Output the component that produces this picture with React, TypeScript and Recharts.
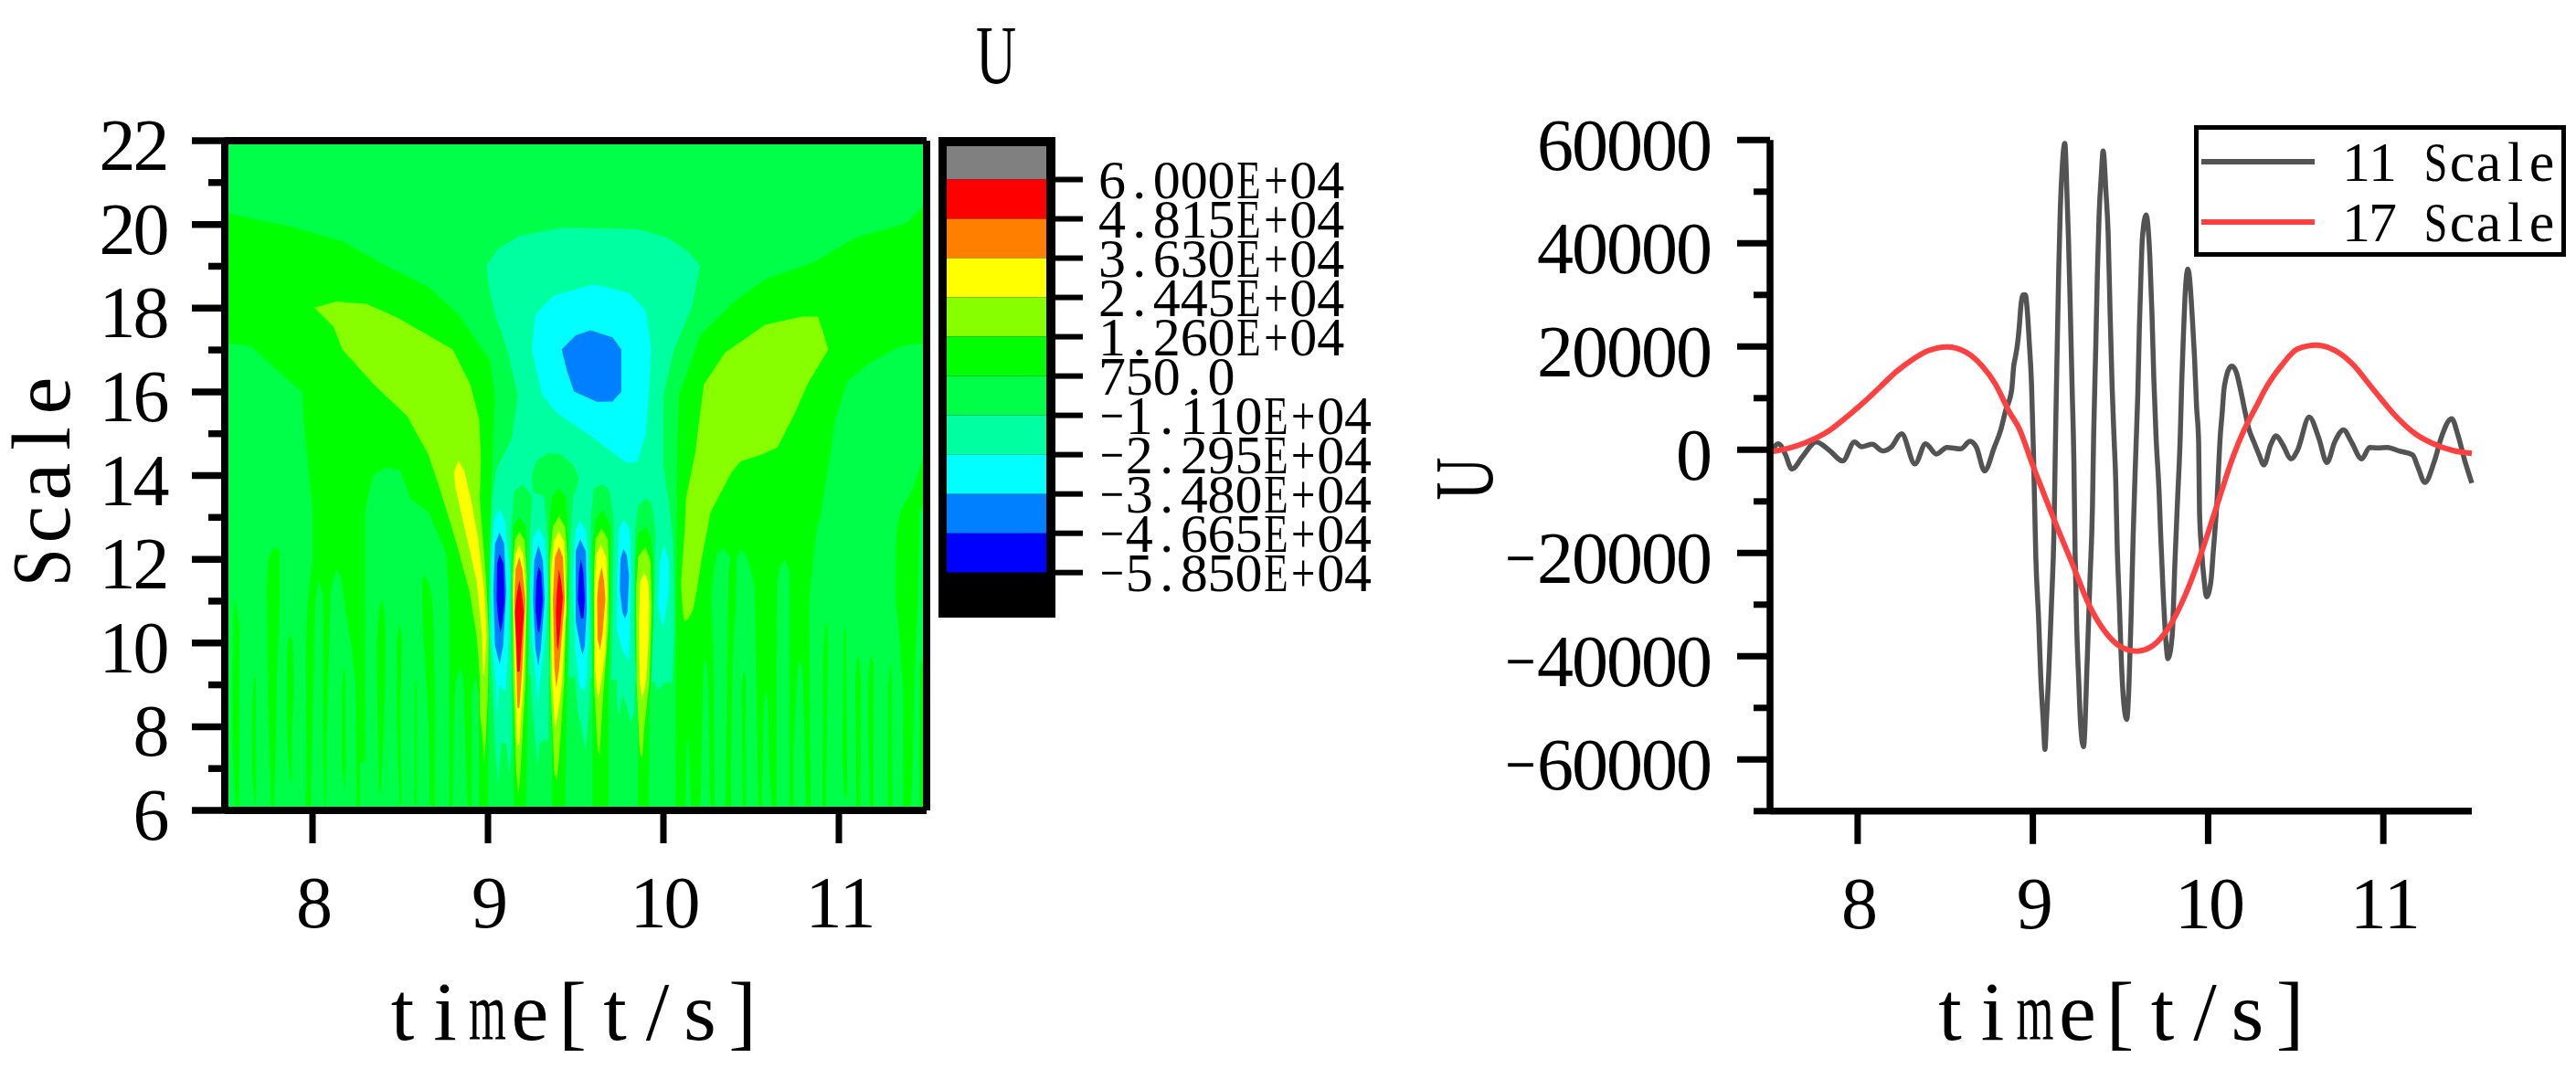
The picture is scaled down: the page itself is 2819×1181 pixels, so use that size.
import { Legend, Line, LineChart, ReferenceLine, ResponsiveContainer, Scatter, ScatterChart, XAxis, YAxis } from 'recharts';

const SERIF = '"Liberation Serif", "DejaVu Serif", serif';

// contour level colours, top of the colour bar first
const GRAY = '#808080';
const RED = '#ff0000';
const ORANGE = '#ff8000';
const YELLOW = '#ffff00';
const LIME = '#88ff00';
const GREEN = '#00ff00';
const SPRING = '#00ff48';
const MINT = '#00ffa0';
const CYAN = '#00ffff';
const BLUE = '#0080ff';
const DEEP = '#0000ff';
const BLACK = '#000000';

const barColors = [GRAY, RED, ORANGE, YELLOW, LIME, GREEN, SPRING, MINT, CYAN, BLUE, DEEP, BLACK];
const barEdges = [70050, 60000, 48150, 36300, 24450, 12600, 750, -11100, -22950, -34800, -46650, -58500, -72080];
const barTicks = [60000, 48150, 36300, 24450, 12600, 750, -11100, -22950, -34800, -46650, -58500];
const barTickLabels = ['6.000E+04', '4.815E+04', '3.630E+04', '2.445E+04', '1.260E+04', '750.0', '−1.110E+04', '−2.295E+04', '−3.480E+04', '−4.665E+04', '−5.850E+04'];

const contourTimeTicks = [8, 9, 10, 11];
const scaleTicks = [6, 7, 8, 9, 10, 11, 12, 13, 14, 15, 16, 17, 18, 19, 20, 21, 22];
const uTicks = [-70000, -60000, -50000, -40000, -30000, -20000, -10000, 0, 10000, 20000, 30000, 40000, 50000, 60000];

// contour outlines as time, scale pairs
const plotField = [7.5,22, 11.5,22, 11.5,6, 7.5,6];
const wideGreen = [7.5,20.28, 7.89,19.93, 8.17,19.6, 8.42,19.01, 8.66,18.51, 8.83,17.86, 9.01,16.76, 9.04,15.93, 10.09,15.93, 10.21,17.35, 10.41,18.18, 10.58,18.69, 10.86,19.1, 11.1,19.69, 11.38,20.02, 11.5,20.5, 11.5,6, 7.5,6];

const outerSpring = [
  [7.5,17.18, 7.65,17.09, 7.755,16.68, 7.94,16, 7.95,15.32, 7.97,14.45, 8,13.14, 8,12.05, 7.99,11.68, 7.972,10.96, 7.964,10.23, 7.964,6.59, 7.96,6, 7.5,6],
  [7.99,6, 7.993,6.59, 8.016,10.96, 8.033,11.48, 8.06,11.17, 8.06,7.32, 8.068,6.3, 8.07,6],
  [8.077,6, 8.08,7.46, 8.103,11.25, 8.137,11.79, 8.163,11.54, 8.19,10.74, 8.215,10.08, 8.233,9.5, 8.247,9, 8.25,6],
  [8.27,6, 8.27,7.1, 8.3,7.2, 8.3,13.14, 8.32,13.58, 8.347,14.01, 8.417,14.19, 8.5,14.12, 8.56,13.43, 8.66,13.14, 8.719,12.56, 8.762,12.12, 8.78,10.74, 8.78,6.15, 8.77,6],
  [8.797,6, 8.806,8.19, 8.82,9.14, 8.84,9.39, 8.858,9.21, 8.875,7.1, 8.884,6.15, 8.884,6],
  [8.907,6, 8.91,8.77, 8.927,9.21, 8.948,8.77, 8.948,6],
  [10.134,7.68, 10.129,6.95, 10.125,6, 10.157,6, 10.151,6.95, 10.143,7.68],
  [10.233,9.57, 10.226,9.06, 10.216,6.95, 10.209,6, 10.273,6, 10.264,6.59, 10.261,8.05, 10.255,9.06, 10.247,9.57],
  [10.339,12.27, 10.302,12.12, 10.281,11.54, 10.273,10.96, 10.285,9.65, 10.292,6, 10.354,6, 10.36,8.05, 10.365,9.87, 10.372,11.68, 10.382,12.05],
  [10.441,12.23, 10.417,11.98, 10.412,10.67, 10.403,10.3, 10.394,9.36, 10.386,7.32, 10.386,6, 10.542,6, 10.538,6.95, 10.528,9.5, 10.521,11.32, 10.49,11.87, 10.469,12.12],
  [10.58,8.88, 10.573,8.41, 10.563,6.66, 10.563,6, 10.62,6, 10.603,6.95, 10.597,8.59],
  [10.69,12.01, 10.663,11.79, 10.65,11.43, 10.646,9.32, 10.646,6, 10.719,6, 10.719,9.28, 10.719,11.72],
  [10.771,9.57, 10.759,8.99, 10.742,7.46, 10.742,6, 10.814,6, 10.802,7.97, 10.794,9.28, 10.785,9.5],
  [11.5,17.18, 11.35,17.09, 11.17,16.68, 11.05,16.26, 10.98,15.34, 10.9,13.14, 10.87,12.63, 10.85,11.83, 10.83,10.96, 10.84,6, 11.5,6],
];

const greenStreaks = [
  [7.552,11.09, 7.542,8.05, 7.552,6.95, 7.564,6, 7.582,6, 7.582,10.37, 7.57,10.81],
  [7.665,9.17, 7.656,8.34, 7.656,6.95, 7.669,6.19, 7.677,6.19, 7.677,9.17],
  [7.781,12.3, 7.75,12.05, 7.738,11.32, 7.747,8.63, 7.764,6, 7.781,6, 7.787,7.03, 7.799,9.36, 7.813,10.81, 7.813,12.19],
  [7.868,10.19, 7.854,9.79, 7.854,7.97, 7.872,6.66, 7.882,6.74, 7.882,7.97, 7.894,8.77, 7.886,10.08],
  [8.181,9.46, 8.167,8.99, 8.167,7.03, 8.181,6.52, 8.19,7.03, 8.186,9.36],
  [8.398,11.07, 8.38,10.81, 8.365,10.01, 8.372,8.05, 8.38,6.44, 8.389,6.34, 8.406,7.9, 8.415,9.28, 8.415,10.59],
  [8.493,10.41, 8.481,10.01, 8.481,8.05, 8.497,6.15, 8.507,6.15, 8.502,8.63, 8.511,10.08, 8.505,10.34],
  [8.585,9.1, 8.58,6.15, 8.594,6.15, 8.594,9.1],
  [8.641,11.61, 8.624,11.54, 8.629,10.37, 8.65,8.99, 8.663,7.97, 8.67,6, 8.698,6, 8.698,8.63, 8.688,10.74, 8.667,11.39],
  [10.455,9.32, 10.446,9.06, 10.452,6, 10.469,6, 10.469,9.21],
  [10.924,10.5, 10.91,9.76, 10.906,6, 10.927,6, 10.938,9.94, 10.933,10.45],
  [11.028,10.3, 11.019,7.32, 11.032,6.34, 11.049,6.34, 11.042,9.65, 11.042,10.3],
  [11.106,9.65, 11.094,9.14, 11.101,6, 11.124,6, 11.124,9.14, 11.115,9.65],
  [11.181,9.72, 11.167,9.14, 11.167,7.97, 11.176,6, 11.198,6, 11.198,9.5],
  [11.297,9.5, 11.28,8.99, 11.28,6, 11.306,6, 11.302,9.5],
  [11.5,14.67, 11.42,13.67, 11.35,13.14, 11.33,12.7, 11.325,12, 11.325,10.96, 11.34,10.45, 11.355,9.5, 11.367,8.8, 11.367,6, 11.41,6, 11.42,7, 11.43,9.2, 11.44,10, 11.45,11, 11.46,13.14, 11.5,13.4],
  [11.46,9.54, 11.5,9.54, 11.5,6, 11.46,6],
];

const limeWings = [
  [8.01,18.01, 8.14,18.16, 8.31,18.1, 8.49,17.76, 8.66,17.35, 8.8,17.01, 8.9,16.17, 8.95,15.34, 8.96,14.34, 8.953,13.43, 8.988,11.61, 9.005,10.16, 9,8.85, 8.988,7.75, 8.979,7.13, 8.97,7.72, 8.953,8.34, 8.953,9.21, 8.936,10.16, 8.893,11.25, 8.823,12.34, 8.771,13.07, 8.719,13.76, 8.66,14.5, 8.54,15.42, 8.35,16.17, 8.17,17.01, 8.12,17.55],
  [10.79,17.8, 10.88,17.8, 10.91,17.43, 10.94,17.01, 10.88,16.59, 10.82,16.17, 10.75,15.5, 10.65,14.67, 10.56,14.5, 10.44,14.34, 10.39,14.09, 10.27,13.14, 10.22,12.05, 10.19,11.25, 10.17,10.81, 10.14,10.56, 10.12,10.52, 10.11,10.74, 10.1,11.43, 10.12,12.63, 10.13,13.5, 10.18,14.5, 10.23,16.17, 10.35,16.93, 10.58,17.6],
];
const yellowRidge = [8.832,14.36, 8.806,14.09, 8.814,13.72, 8.849,13.07, 8.893,12.27, 8.936,11.47, 8.967,10.16, 8.971,9.25, 8.979,9.25, 8.992,10.16, 8.979,11.25, 8.945,12.48, 8.91,13.28, 8.867,14.09];

const centreSpring = [9.04,16.2, 9.04,15.93, 9.03,14.89, 9.02,13.8, 9.005,10.3, 9,6, 10.07,6, 10.07,10.3, 10.08,14.89, 10.09,15.93, 10.09,16.2];
const centreMint = [8.99,19.01, 9.06,19.43, 9.18,19.73, 9.43,19.92, 9.85,19.89, 10.02,19.69, 10.14,19.35, 10.21,19.01, 10.16,18.01, 10.06,17, 10,15.93, 10,14.89, 10,14.2, 10.03,13.4, 10.056,12.34, 10.064,10.3, 10.05,9.06, 10.01,9.06, 9.97,8.88, 9.948,9.06, 9.02,9.3, 9.005,10.5, 9.014,12.7, 9.023,13.43, 9.049,14.16, 9.092,14.52, 9.136,14.89, 9.17,15.93, 9.11,17, 9.04,17.86, 9.01,18.42];
const centreCyan = [9.6,18.56, 9.375,18.3, 9.27,17.85, 9.25,17.01, 9.31,15.92, 9.39,15.5, 9.57,15, 9.79,14.3, 9.85,14.34, 9.9,15, 9.92,16.17, 9.93,17.01, 9.9,17.93, 9.81,18.35, 9.67,18.51];
const centreBlue = [9.585,17.47, 9.5,17.35, 9.42,17.01, 9.45,16.51, 9.49,16.01, 9.62,15.76, 9.71,15.77, 9.76,16.01, 9.76,17.01, 9.71,17.3];

const columnSpring = [
  [9.196,13.79, 9.15,13.61, 9.132,12.7, 9.129,10.52, 9.136,8.7, 9.231,8.7, 9.236,10.52, 9.24,12.7, 9.254,13.5],
  [9.344,14.54, 9.278,14.36, 9.249,13.98, 9.257,13.61, 9.318,13.5, 9.344,12.48, 9.351,9.79, 9.354,8.7, 9.457,8.7, 9.462,9.79, 9.469,12.48, 9.486,13.5, 9.521,13.94, 9.483,14.27, 9.413,14.51],
  [9.648,13.79, 9.604,13.69, 9.587,13, 9.584,11.25, 9.596,8.7, 9.7,8.7, 9.712,11.25, 9.717,13, 9.691,13.65],
  [9.9,13.45, 9.856,13.28, 9.839,12.7, 9.834,10.52, 9.847,8.7, 9.927,8.7, 9.948,11.25, 9.955,12.7, 9.934,13.32],
];
const columnMint = [
  [9.018,9.5, 9.132,9.5, 9.136,7.61, 9.122,6.88, 9.104,7.61, 9.075,7.61, 9.058,6.63, 9.04,7.61],
  [9.24,9.5, 9.347,9.5, 9.344,7.68, 9.318,7.68, 9.295,7.61, 9.283,7.03, 9.271,7.61, 9.254,8.34],
  [9.492,9.5, 9.587,9.5, 9.578,8.48, 9.556,7.46, 9.535,7.9, 9.514,8.34, 9.497,9.06],
  [9.735,9.5, 9.839,9.5, 9.834,8.34, 9.813,8.08, 9.792,8.48, 9.769,8.77, 9.743,8.23, 9.735,8.63],
];
const columnGreen = [
  [9.179,13.01, 9.144,12.78, 9.136,11.25, 9.144,8.34, 9.15,6, 9.219,6, 9.226,8.34, 9.226,11.25, 9.219,12.78],
  [9.405,13.69, 9.365,13.5, 9.347,12.7, 9.347,10.52, 9.365,7.61, 9.365,6, 9.44,6, 9.445,7.61, 9.457,10.52, 9.457,12.7, 9.44,13.5],
  [9.656,13.18, 9.613,12.96, 9.596,12.34, 9.596,6, 9.688,6, 9.688,9.06, 9.7,11.97, 9.7,12.78],
  [9.9,12.78, 9.856,12.63, 9.839,11.97, 9.839,9.79, 9.856,8.34, 9.856,6, 9.917,6, 9.92,8.34, 9.943,10.52, 9.943,11.97, 9.926,12.56],
];
const columnLime = [
  [9.179,12.67, 9.153,12.45, 9.139,11.61, 9.144,9.06, 9.162,6.88, 9.174,6.37, 9.184,6.88, 9.214,9.06, 9.222,11.61, 9.209,12.45],
  [9.405,13.03, 9.37,12.78, 9.353,11.97, 9.356,9.06, 9.379,6.88, 9.393,6.75, 9.405,7.24, 9.434,9.06, 9.453,11.97, 9.44,12.78],
  [9.648,12.74, 9.613,12.48, 9.604,11.61, 9.604,9.06, 9.625,7.46, 9.636,7.32, 9.656,8.7, 9.688,10.52, 9.688,11.97, 9.683,12.48],
  [9.896,12.3, 9.856,12.05, 9.844,11.25, 9.847,9.06, 9.865,7.39, 9.879,7.24, 9.891,7.97, 9.92,9.06, 9.934,10.88, 9.926,11.97],
];
const columnYellow = [
  [9.179,12.34, 9.157,12.12, 9.143,11.25, 9.153,9.43, 9.167,7.57, 9.179,7.57, 9.202,9.06, 9.219,11.1, 9.202,12.08],
  [9.405,12.67, 9.375,12.41, 9.358,11.61, 9.365,9.06, 9.382,7.99, 9.4,8.34, 9.422,9.06, 9.448,10.88, 9.434,12.41],
  [9.644,12.34, 9.618,12.12, 9.608,11.25, 9.61,9.43, 9.627,8.66, 9.648,9.14, 9.67,9.79, 9.681,11.25, 9.674,12.05],
  [9.891,11.68, 9.868,11.47, 9.861,10.52, 9.865,9.06, 9.879,8.66, 9.9,9.06, 9.917,10.16, 9.92,10.88, 9.913,11.47],
];
const columnOrange = [
  [9.179,12.05, 9.157,11.76, 9.15,11.03, 9.162,9.43, 9.167,8.45, 9.179,8.45, 9.196,9.43, 9.214,11.03, 9.196,11.76],
  [9.405,12.3, 9.382,12.05, 9.37,11.03, 9.379,9.43, 9.389,8.93, 9.405,9.36, 9.422,10.23, 9.438,11.03, 9.427,12.05],
  [9.648,11.83, 9.63,11.47, 9.622,11.03, 9.625,10.08, 9.639,9.83, 9.653,10.23, 9.669,11.03, 9.662,11.47],
];
const columnRed = [
  [9.179,11.5, 9.162,11.1, 9.153,10.74, 9.162,9.94, 9.167,9.32, 9.181,9.32, 9.191,9.94, 9.205,10.74, 9.193,11.17],
  [9.405,11.76, 9.393,11.25, 9.387,10.74, 9.393,9.94, 9.4,9.83, 9.41,10.23, 9.427,11.1, 9.417,11.47],
];
const columnCyan = [
  [9.066,13.21, 9.035,12.92, 9.018,11.97, 9.018,10.16, 9.045,9.06, 9.052,8.26, 9.063,8.99, 9.101,8.85, 9.115,9.79, 9.127,11.61, 9.097,12.92],
  [9.288,12.74, 9.257,12.48, 9.24,11.39, 9.249,10.16, 9.275,9.06, 9.283,8.55, 9.295,9.06, 9.327,10.16, 9.341,11.39, 9.323,12.48],
  [9.526,12.92, 9.5,12.7, 9.483,11.54, 9.497,9.79, 9.526,8.92, 9.556,8.88, 9.578,10.16, 9.578,11.39, 9.561,12.63],
  [9.773,12.96, 9.747,12.7, 9.735,11.61, 9.735,10.3, 9.769,9.79, 9.804,9.57, 9.809,10.16, 9.816,11.61, 9.809,12.7],
  [10.004,12.34, 9.983,11.97, 9.969,10.88, 9.995,10.41, 10.007,10.52, 10.03,11.25, 10.03,11.97],
];
const columnBlue = [
  [9.066,12.64, 9.04,12.37, 9.031,11.25, 9.04,9.94, 9.066,9.5, 9.087,9.94, 9.104,11.25, 9.092,12.37],
  [9.288,12.34, 9.264,11.97, 9.257,11.03, 9.271,9.86, 9.287,9.46, 9.301,9.86, 9.323,11.03, 9.313,11.97],
  [9.526,12.48, 9.5,12.19, 9.5,10.52, 9.53,9.86, 9.54,9.72, 9.552,9.94, 9.563,10.81, 9.558,12.19],
  [9.773,12.25, 9.755,12.01, 9.752,11.25, 9.766,10.74, 9.781,10.59, 9.795,10.74, 9.804,11.61, 9.792,12.08],
];
const columnDeep = [
  [9.066,12.13, 9.052,11.9, 9.049,11.03, 9.058,10.59, 9.071,10.24, 9.084,10.52, 9.097,11.03, 9.089,11.9],
  [9.288,11.83, 9.275,11.47, 9.271,10.81, 9.283,10.3, 9.292,10.24, 9.302,10.52, 9.313,11.03, 9.304,11.68],
  [9.53,12.01, 9.518,11.68, 9.512,11.03, 9.53,10.59, 9.544,10.59, 9.552,11.03, 9.544,11.68],
];

// painted back to front
const contourLayers: [string, number[][]][] = [
  [SPRING, [plotField]],
  [GREEN, [wideGreen]],
  [SPRING, outerSpring],
  [GREEN, greenStreaks],
  [LIME, limeWings],
  [YELLOW, [yellowRidge]],
  [SPRING, [centreSpring]],
  [MINT, [centreMint]],
  [CYAN, [centreCyan]],
  [BLUE, [centreBlue]],
  [SPRING, columnSpring],
  [MINT, columnMint],
  [GREEN, columnGreen],
  [LIME, columnLime],
  [YELLOW, columnYellow],
  [ORANGE, columnOrange],
  [RED, columnRed],
  [CYAN, columnCyan],
  [BLUE, columnBlue],
  [DEEP, columnDeep],
];

const time11 = [7.5,7.549,7.585,7.625,7.686,7.763,7.839,7.915,7.982,8.022,8.083,8.144,8.19,8.251,8.327,8.388,8.449,8.51,8.587,8.642,8.678,8.724,8.78,8.818,8.844,8.879,8.891,8.901,8.913,8.922,8.932,8.945,8.957,8.968,8.979,8.992,9.003,9.017,9.033,9.045,9.06,9.069,9.078,9.091,9.106,9.121,9.13,9.139,9.148,9.156,9.168,9.182,9.197,9.203,9.213,9.224,9.234,9.241,9.25,9.262,9.272,9.289,9.31,9.325,9.34,9.347,9.359,9.368,9.378,9.391,9.401,9.417,9.43,9.44,9.452,9.463,9.473,9.481,9.493,9.505,9.52,9.536,9.548,9.56,9.572,9.581,9.59,9.599,9.608,9.617,9.625,9.646,9.668,9.68,9.69,9.703,9.72,9.73,9.744,9.759,9.771,9.795,9.811,9.826,9.841,9.849,9.859,9.868,9.885,9.911,9.923,9.934,9.946,9.951,9.963,9.978,9.991,10.016,10.03,10.049,10.07,10.08,10.09,10.103,10.116,10.137,10.161,10.186,10.207,10.233,10.259,10.29,10.318,10.358,10.388,10.425,10.474,10.51,10.577,10.632,10.678,10.724,10.773,10.816,10.877,10.922,10.968,11.023,11.09,11.167,11.197,11.237,11.289,11.335,11.39,11.426,11.463,11.505];
const value11 = [-700,1172,-700,-3750,-1290,1520,-120,-2170,1520,586,1055,-234,470,3100,-2750,1172,-820,470,176,1640,470,-4100,500,4000,7560,11600,16300,18100,20700,23700,28000,30000,30000,27000,21000,13000,0,-21000,-33000,-44000,-53000,-58050,-52000,-43000,-30000,-15000,4000,20000,35500,46000,55000,59360,47000,41000,28000,12000,-2000,-20000,-34000,-45000,-53000,-57500,-41000,-26000,-11000,3000,20000,34000,45500,53500,57900,50000,41500,27500,12500,2500,-6200,-18300,-29400,-41000,-49500,-52240,-46000,-33000,-17000,-7000,2000,11000,24000,34000,41000,45500,37000,26000,14000,2500,-8000,-17000,-28000,-37000,-40460,-36000,-21500,-9500,2500,12500,22000,29500,35000,25000,17500,8500,1500,-12000,-19500,-25500,-28500,-25500,-19500,-11000,3000,7000,11500,14000,15500,16200,15000,11500,8000,4000,1700,-900,-2930,1055,2700,1055,-1760,-120,6330,2230,-2460,1640,3870,1640,-1760,470,350,470,-234,-1000,-3340,-6330,-2460,2810,6040,2810,-1875,-6450];

const time17 = [7.5,7.61,7.7,7.824,7.915,8.037,8.129,8.22,8.312,8.404,8.51,8.617,8.709,8.785,8.846,8.862,8.923,8.999,9.06,9.136,9.228,9.32,9.411,9.503,9.594,9.686,9.778,9.869,9.961,10.052,10.144,10.205,10.281,10.327,10.419,10.51,10.617,10.724,10.816,10.938,11.06,11.182,11.274,11.396,11.505];
const value17 = [-410,350,1350,3400,5740,9260,12190,15120,17460,19200,19920,18930,16290,12780,8670,7560,4050,-3000,-8270,-14800,-22300,-30000,-35200,-38200,-39000,-37900,-34300,-28200,-20000,-10600,-1200,3800,8800,11800,16300,19520,20280,19220,16880,11900,6917,3100,1340,-120,-700];

const rows11 = time11.map((t, i) => ({ t, u: value11[i] }));
const rows17 = time17.map((t, i) => ({ t, u: value17[i] }));

const barFrame = [0,72810, 1,72810, 1,-72080, 0,-72080];
const barSwatches = barColors.map((color, i) => ({
  color,
  patch: [0.07, barEdges[i], 0.922, barEdges[i], 0.922, barEdges[i + 1], 0.07, barEdges[i + 1]],
}));

function toPoints(flat: number[]) {
  const points = [];
  for (let i = 0; i < flat.length; i += 2) points.push({ x: flat[i], y: flat[i + 1] });
  return points;
}

// half-width look of the original font: wide glyphs are squeezed into a fixed cell
const cellShare: Record<string, number> = { m: 0.88, S: 0.88, E: 0.88, '+': 0.88, '−': 0.88, U: 0.98 };

function MonoText({ cx, y, text, pitch, size, rotate }: { cx: number; y: number; text: string; pitch: number; size: number; rotate?: boolean }) {
  const chars = [...text];
  const left = cx - ((chars.length - 1) * pitch) / 2;
  return (
    <text y={y} fontFamily={SERIF} fontSize={size} fill="#000" textAnchor="middle" transform={rotate ? `rotate(-90 ${cx} ${y})` : undefined}>
      {chars.map((c, i) => (
        <tspan key={i} x={left + i * pitch} textLength={cellShare[c] ? pitch * cellShare[c] : undefined} lengthAdjust="spacingAndGlyphs">
          {c}
        </tspan>
      ))}
    </text>
  );
}

function ScaleTick({ x, y, payload }: any) {
  const major = payload.value % 2 === 0;
  const label = String(payload.value);
  return (
    <g>
      <line x1={x} x2={x - (major ? 36 : 18)} y1={y} y2={y} stroke="#000" strokeWidth={7.5} />
      {major && <MonoText cx={x - 62 - (label.length * 37) / 2} y={y + 32} text={label} pitch={37} size={80} />}
    </g>
  );
}

function UTick({ x, y, payload }: any) {
  const major = payload.value % 20000 === 0;
  const label = String(payload.value).replace('-', '−');
  return (
    <g>
      <line x1={x} x2={x - (major ? 36 : 18)} y1={y} y2={y} stroke="#000" strokeWidth={7} />
      {major && <MonoText cx={x - 64 - (label.length * 38) / 2} y={y + 33} text={label} pitch={38} size={80} />}
    </g>
  );
}

function TimeTick({ x, y, payload }: any) {
  const label = String(payload.value);
  return (
    <g>
      <line x1={x} x2={x} y1={y} y2={y + 36} stroke="#000" strokeWidth={7} />
      <MonoText cx={x + 2} y={y + 128} text={label} pitch={37} size={80} />
    </g>
  );
}

function BarTick({ x, y, payload }: any) {
  const label = barTickLabels[barTicks.indexOf(payload.value)];
  return (
    <g>
      <line x1={x} x2={x + 30} y1={y} y2={y} stroke="#000" strokeWidth={6} />
      <MonoText cx={x + 47 + (label.length * 29.9) / 2} y={y + 20} text={label} pitch={29.9} size={60} />
    </g>
  );
}

function ScaleLegend({ payload }: any) {
  return (
    <svg width={407} height={144} style={{ display: 'block' }}>
      <rect x={2.5} y={2.5} width={402} height={139} fill="#fff" stroke="#000" strokeWidth={5} />
      {(payload ?? []).map((entry: any, i: number) => (
        <g key={entry.value}>
          <line x1={8} x2={132} y1={40 + i * 66} y2={40 + i * 66} stroke={entry.color} strokeWidth={6} />
          <MonoText cx={279} y={61 + i * 66} text={entry.value} pitch={29} size={62} />
        </g>
      ))}
    </svg>
  );
}

function patchSeries(key: string, color: string, flat: number[]) {
  return (
    <Scatter
      key={key}
      data={toPoints(flat)}
      dataKey="y"
      fill={color}
      line={{ fill: color, stroke: 'none' }}
      lineType="joint"
      shape={() => <g />}
      legendType="none"
      zIndex={50}
      isAnimationActive={false}
    />
  );
}

function ContourChart() {
  return (
    <div style={{ position: 'absolute', left: 0, top: 0, width: 1030, height: 1181 }}>
      <ResponsiveContainer width="100%" height="100%">
        <ScatterChart margin={{ top: 154, right: 16, bottom: 144, left: 66 }}>
          {contourLayers.flatMap(([color, patches], layer) => patches.map((patch, i) => patchSeries(`${layer}-${i}`, color, patch)))}
          <XAxis
            type="number"
            dataKey="x"
            domain={[7.5, 11.5]}
            ticks={contourTimeTicks}
            interval={0}
            height={150}
            tickSize={0}
            tickMargin={0}
            tick={<TimeTick />}
            axisLine={{ stroke: '#000', strokeWidth: 8 }}
            label={{ content: () => <MonoText cx={626.5} y={1138} text="time[t/s]" pitch={46.5} size={92} /> }}
          />
          <YAxis
            type="number"
            dataKey="y"
            domain={[6, 22]}
            ticks={scaleTicks}
            interval={0}
            width={180}
            tickSize={0}
            tickMargin={0}
            tick={<ScaleTick />}
            axisLine={{ stroke: '#000', strokeWidth: 8 }}
            label={{ content: () => <MonoText cx={76} y={527} text="Scale" pitch={47} size={92} rotate /> }}
          />
          <ReferenceLine x={11.5} stroke="#000" strokeWidth={8} zIndex={700} />
          <ReferenceLine y={22} stroke="#000" strokeWidth={8} zIndex={700} />
          <ReferenceLine x={7.5} stroke="#000" strokeWidth={8} zIndex={700} />
          <ReferenceLine y={6} stroke="#000" strokeWidth={8} zIndex={700} />
        </ScatterChart>
      </ResponsiveContainer>
    </div>
  );
}

function ColorBar() {
  return (
    <div style={{ position: 'absolute', left: 1027, top: 0, width: 560, height: 1181 }}>
      <ResponsiveContainer width="100%" height="100%">
        <ScatterChart margin={{ top: 150, right: 32, bottom: 505, left: 0 }}>
          {patchSeries('frame', BLACK, barFrame)}
          {barSwatches.map((swatch) => patchSeries(swatch.color, swatch.color, swatch.patch))}
          <XAxis type="number" dataKey="x" domain={[0, 1]} hide />
          <YAxis
            orientation="right"
            type="number"
            dataKey="y"
            domain={[-72080, 72810]}
            ticks={barTicks}
            interval={0}
            width={400}
            tickSize={0}
            tickMargin={0}
            tick={<BarTick />}
            axisLine={false}
            label={{ content: () => <MonoText cx={63} y={91} text="U" pitch={45} size={92} /> }}
          />
        </ScatterChart>
      </ResponsiveContainer>
    </div>
  );
}

function LinesChart() {
  return (
    <div style={{ position: 'absolute', left: 1500, top: 0, width: 1319, height: 1181 }}>
      <ResponsiveContainer width="100%" height="100%">
        <LineChart margin={{ top: 153.3, right: 114, bottom: 143.2, left: 57 }}>
          <XAxis
            type="number"
            dataKey="t"
            domain={[7.5, 11.5]}
            ticks={contourTimeTicks}
            interval={0}
            height={150}
            tickSize={0}
            tickMargin={0}
            tick={<TimeTick />}
            axisLine={{ stroke: '#000', strokeWidth: 7.5 }}
            label={{ content: () => <MonoText cx={820} y={1138} text="time[t/s]" pitch={46.5} size={92} /> }}
          />
          <YAxis
            type="number"
            domain={[-70000, 60000]}
            ticks={uTicks}
            interval={0}
            width={380}
            tickSize={0}
            tickMargin={0}
            tick={<UTick />}
            axisLine={{ stroke: '#000', strokeWidth: 7.5 }}
            label={{ content: () => <MonoText cx={133} y={524} text="U" pitch={48} size={92} rotate /> }}
          />
          <Line data={rows11} dataKey="u" name="11 Scale" stroke="#535353" strokeWidth={5.5} dot={false} type="monotone" isAnimationActive={false} />
          <Line data={rows17} dataKey="u" name="17 Scale" stroke="#ff4040" strokeWidth={6} dot={false} type="monotone" isAnimationActive={false} />
          <Legend layout="vertical" align="center" verticalAlign="middle" content={<ScaleLegend />} wrapperStyle={{ left: 901, top: 137, width: 407, height: 144 }} />
        </LineChart>
      </ResponsiveContainer>
    </div>
  );
}

export default function App() {
  return (
    <div style={{ position: 'absolute', left: 0, top: 0, width: 2819, height: 1181, background: '#fff', overflow: 'hidden' }}>
      <ContourChart />
      <ColorBar />
      <LinesChart />
    </div>
  );
}
